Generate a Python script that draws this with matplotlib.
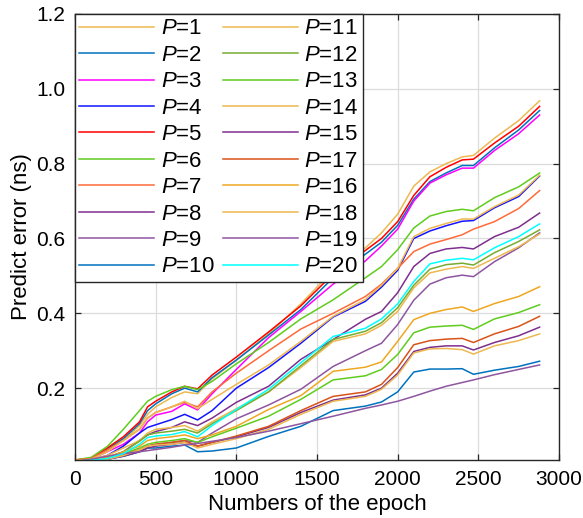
import matplotlib
matplotlib.use("Agg")
import matplotlib.pyplot as plt

plt.rcParams['font.family'] = ['Liberation Sans', 'DejaVu Sans']
plt.rcParams['mathtext.fontset'] = 'custom'
plt.rcParams['mathtext.it'] = 'Liberation Sans:italic'
plt.rcParams['mathtext.rm'] = 'Liberation Sans'

epochs = [0, 100, 200, 300, 400, 450, 500, 600, 680, 760, 850, 1000, 1200, 1400,
          1600, 1800, 1900, 2000, 2100, 2200, 2300, 2400, 2470, 2600, 2750, 2880]

p1 = [0.008, 0.012, 0.035, 0.06, 0.10, 0.13, 0.15, 0.175, 0.19, 0.185, 0.225, 0.275, 0.345, 0.425,
      0.515, 0.575, 0.615, 0.665, 0.74, 0.778, 0.80, 0.818, 0.822, 0.868, 0.915, 0.968]
p2 = [0.008, 0.012, 0.038, 0.065, 0.105, 0.14, 0.158, 0.185, 0.20, 0.19, 0.228, 0.275, 0.342, 0.41,
      0.495, 0.558, 0.59, 0.635, 0.705, 0.752, 0.775, 0.795, 0.795, 0.842, 0.89, 0.942]
p3 = [0.008, 0.010, 0.03, 0.05, 0.08, 0.11, 0.128, 0.138, 0.158, 0.142, 0.185, 0.25, 0.335, 0.405,
      0.478, 0.54, 0.58, 0.625, 0.70, 0.748, 0.77, 0.788, 0.788, 0.835, 0.88, 0.93]
p4 = [0.005, 0.008, 0.02, 0.045, 0.08, 0.095, 0.102, 0.116, 0.13, 0.115, 0.14, 0.20, 0.255, 0.32,
      0.39, 0.432, 0.47, 0.515, 0.60, 0.62, 0.634, 0.646, 0.648, 0.682, 0.712, 0.767]
p5 = [0.008, 0.012, 0.04, 0.07, 0.11, 0.15, 0.165, 0.19, 0.205, 0.198, 0.235, 0.283, 0.35, 0.42,
      0.505, 0.568, 0.60, 0.645, 0.715, 0.765, 0.79, 0.81, 0.812, 0.855, 0.90, 0.953]
p6 = [0.008, 0.015, 0.044, 0.09, 0.14, 0.165, 0.178, 0.196, 0.205, 0.196, 0.218, 0.265, 0.322, 0.385,
      0.436, 0.495, 0.525, 0.57, 0.628, 0.66, 0.672, 0.678, 0.674, 0.709, 0.738, 0.775]
p7 = [0.008, 0.012, 0.035, 0.06, 0.09, 0.12, 0.135, 0.15, 0.162, 0.15, 0.19, 0.24, 0.30, 0.358,
      0.40, 0.445, 0.478, 0.52, 0.565, 0.585, 0.597, 0.61, 0.625, 0.645, 0.68, 0.728]
p8 = [0.005, 0.008, 0.015, 0.03, 0.06, 0.075, 0.084, 0.095, 0.11, 0.10, 0.12, 0.162, 0.205, 0.277,
      0.33, 0.384, 0.405, 0.455, 0.525, 0.56, 0.572, 0.576, 0.572, 0.605, 0.63, 0.668]
p9 = [0.005, 0.007, 0.01, 0.02, 0.035, 0.045, 0.05, 0.055, 0.06, 0.055, 0.08, 0.118, 0.155, 0.197,
      0.258, 0.30, 0.32, 0.37, 0.435, 0.478, 0.495, 0.502, 0.498, 0.538, 0.575, 0.615]
p10 = [0.004, 0.006, 0.01, 0.018, 0.03, 0.04, 0.04, 0.045, 0.048, 0.03, 0.032, 0.04, 0.071, 0.098,
       0.14, 0.152, 0.163, 0.19, 0.243, 0.251, 0.251, 0.252, 0.237, 0.248, 0.258, 0.272]
p11 = [0.006, 0.01, 0.02, 0.04, 0.06, 0.08, 0.09, 0.095, 0.10, 0.085, 0.11, 0.145, 0.19, 0.255,
       0.325, 0.345, 0.368, 0.405, 0.468, 0.508, 0.518, 0.525, 0.52, 0.547, 0.578, 0.612]
p12 = [0.005, 0.007, 0.013, 0.03, 0.058, 0.075, 0.08, 0.085, 0.09, 0.08, 0.105, 0.14, 0.19, 0.26,
       0.33, 0.352, 0.375, 0.415, 0.475, 0.518, 0.53, 0.534, 0.529, 0.562, 0.592, 0.623]
p13 = [0.005, 0.008, 0.013, 0.025, 0.04, 0.05, 0.055, 0.06, 0.065, 0.055, 0.07, 0.093, 0.125, 0.17,
       0.222, 0.233, 0.25, 0.29, 0.348, 0.363, 0.366, 0.368, 0.357, 0.385, 0.402, 0.423]
p14 = [0.005, 0.01, 0.03, 0.06, 0.09, 0.12, 0.135, 0.15, 0.165, 0.145, 0.17, 0.21, 0.262, 0.325,
       0.392, 0.437, 0.475, 0.52, 0.605, 0.627, 0.64, 0.652, 0.652, 0.685, 0.716, 0.769]
p15 = [0.004, 0.006, 0.01, 0.018, 0.03, 0.04, 0.045, 0.05, 0.055, 0.045, 0.055, 0.07, 0.095, 0.135,
       0.168, 0.182, 0.20, 0.24, 0.298, 0.309, 0.313, 0.313, 0.302, 0.322, 0.34, 0.363]
p16 = [0.005, 0.008, 0.015, 0.03, 0.045, 0.06, 0.065, 0.07, 0.075, 0.065, 0.075, 0.098, 0.143, 0.18,
       0.245, 0.256, 0.27, 0.325, 0.383, 0.40, 0.41, 0.417, 0.405, 0.426, 0.445, 0.471]
p17 = [0.005, 0.007, 0.012, 0.022, 0.035, 0.045, 0.05, 0.055, 0.06, 0.045, 0.055, 0.072, 0.098, 0.14,
       0.178, 0.19, 0.21, 0.255, 0.316, 0.327, 0.331, 0.333, 0.322, 0.345, 0.365, 0.392]
p18 = [0.004, 0.006, 0.01, 0.02, 0.035, 0.045, 0.048, 0.05, 0.055, 0.04, 0.05, 0.065, 0.09, 0.13,
       0.165, 0.178, 0.197, 0.235, 0.294, 0.305, 0.306, 0.303, 0.291, 0.313, 0.327, 0.345]
p19 = [0.004, 0.01, 0.018, 0.025, 0.03, 0.033, 0.036, 0.042, 0.048, 0.052, 0.058, 0.068, 0.085, 0.105,
       0.125, 0.146, 0.155, 0.165, 0.178, 0.192, 0.205, 0.215, 0.222, 0.236, 0.25, 0.262]
p20 = [0.005, 0.007, 0.012, 0.025, 0.05, 0.068, 0.072, 0.076, 0.084, 0.07, 0.10, 0.143, 0.197, 0.268,
       0.338, 0.36, 0.385, 0.425, 0.485, 0.532, 0.542, 0.547, 0.543, 0.575, 0.605, 0.639]

labels = ['$P$=1', '$P$=2', '$P$=3', '$P$=4', '$P$=5', '$P$=6', '$P$=7', '$P$=8', '$P$=9', '$P$=10',
          '$P$=11', '$P$=12', '$P$=13', '$P$=14', '$P$=15', '$P$=17', '$P$=16', '$P$=18', '$P$=19', '$P$=20']
series = [p1, p2, p3, p4, p5, p6, p7, p8, p9, p10,
          p11, p12, p13, p14, p15, p17, p16, p18, p19, p20]
colors = ['#EDB850', '#0072BD', '#FF00FF', '#1414FF', '#FF0000', '#5FCC1E', '#FF6A3A', '#7E2F8E',
          '#8E55A0', '#0072BD', '#EDB850', '#77AC30', '#5FCC1E', '#EDB850', '#7E2F8E', '#D95319',
          '#EDA820', '#EDB850', '#8E55A0', '#00FFFF']

fig = plt.figure(figsize=(5.83, 5.18), dpi=100)
ax = fig.add_axes([0.1286, 0.112, 0.8302, 0.861])

handles = []
for ys, c, lab in zip(series, colors, labels):
    h, = ax.plot(epochs, ys, color=c, lw=1.1, label=lab)
    handles.append(h)

ax.set_xlim(0, 3000)
ax.set_ylim(0.008, 1.2)
ax.set_xticks([0, 500, 1000, 1500, 2000, 2500, 3000])
ax.set_yticks([0.2, 0.4, 0.6, 0.8, 1.0, 1.2])
ax.set_yticklabels(['0.2', '0.4', '0.6', '0.8', '1.0', '1.2'])
ax.grid(True, color='#DCDCDC', lw=0.9)
ax.set_axisbelow(True)
ax.tick_params(direction='in', length=4.5, width=0.9, top=True, right=True,
               labelsize=15, colors='#262626', labelcolor='black', pad=7)
for s in ax.spines.values():
    s.set_color('#262626')
    s.set_linewidth(1.0)
ax.set_xlabel('Numbers of the epoch', fontsize=16, labelpad=4)
ax.set_ylabel('Predict error (ns)', fontsize=16, labelpad=3)

leg = ax.legend(handles=handles, loc='upper left', ncol=2, fontsize=16, frameon=True,
                fancybox=False, framealpha=1, edgecolor='#262626', borderaxespad=0,
                handlelength=3.35, handletextpad=0.3, columnspacing=0.4,
                labelspacing=0.245, borderpad=0.2)
leg.get_frame().set_linewidth(1.0)

fig.savefig('out.png', dpi=100)
